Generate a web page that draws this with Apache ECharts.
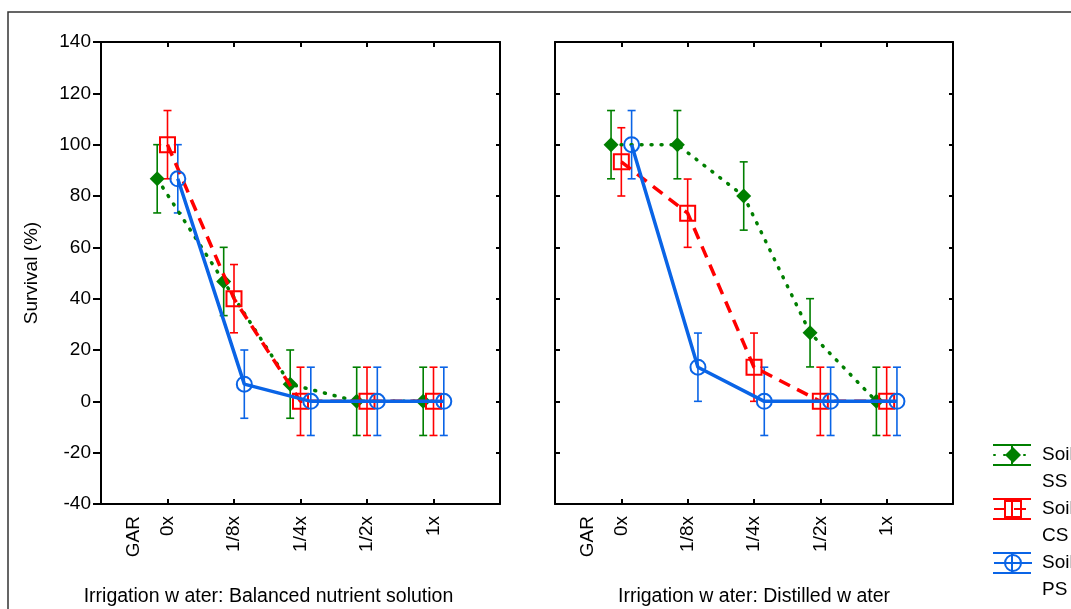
<!DOCTYPE html>
<html>
<head>
<meta charset="utf-8">
<script src="https://cdn.jsdelivr.net/npm/echarts@6/dist/echarts.min.js"></script>
<style>
  html, body { margin: 0; padding: 0; background: #fff; }
  #chart { width: 1071px; height: 609px; }
</style>
</head>
<body>
<div id="chart"></div>
<script>
// doses on the x axis (GAR is only a label left of 0x)
var doses = ['0x', '1/8x', '1/4x', '1/2x', '1x'];
var seriesNames = ['Soil SS', 'Soil CS', 'Soil PS'];
var panelTitles = ['Irrigation w ater: Balanced nutrient solution', 'Irrigation w ater: Distilled w ater'];

// survival (%)
var balancedSS = [86.7, 46.7, 6.7, 0, 0];
var balancedCS = [100, 40, 0, 0, 0];
var balancedPS = [86.7, 6.7, 0, 0, 0];
var distilledSS = [100, 100, 80, 26.7, 0];
var distilledCS = [93.3, 73.3, 13.3, 0, 0];
var distilledPS = [100, 13.3, 0, 0, 0];

// error bar half widths
var balancedSSErr = [13.3, 13.3, 13.3, 13.3, 13.3];
var balancedCSErr = [13.3, 13.3, 13.3, 13.3, 13.3];
var balancedPSErr = [13.3, 13.3, 13.3, 13.3, 13.3];
var distilledSSErr = [13.3, 13.3, 13.3, 13.3, 13.3];
var distilledCSErr = [13.3, 13.3, 13.3, 13.3, 13.3];
var distilledPSErr = [13.3, 13.3, 13.3, 13.3, 13.3];

var yTicks = { min: -40, max: 140, step: 20 };

var colors = ['#007f00', '#ff0000', '#0a64e6'];
var dodge = [-0.155, 0, 0.155];
var symbols = ['diamond', 'rect', 'circle'];
var lineTypes = [[1, 9], [12, 8], 'solid'];
var FONT = 'Liberation Sans, Arial, sans-serif';

var panels = [
    { means: [balancedSS, balancedCS, balancedPS], errs: [balancedSSErr, balancedCSErr, balancedPSErr] },
    { means: [distilledSS, distilledCS, distilledPS], errs: [distilledSSErr, distilledCSErr, distilledPSErr] }
];

var chart = echarts.init(document.getElementById('chart'));

var grids = [
    { left: 101, top: 42, width: 399, height: 462, outerBoundsMode: 'none', containLabel: false },
    { left: 555, top: 42, width: 398, height: 462, outerBoundsMode: 'none', containLabel: false }
];

var xAxes = [];
var yAxes = [];
var series = [];

function tickLabel(v) {
    if (Math.abs(v + 0.5) < 1e-6) return 'GAR';
    var i = Math.round(v);
    if (Math.abs(v - i) < 1e-6 && i >= 0 && i < doses.length) return doses[i];
    return '';
}

var frameLine = { show: true, onZero: false, lineStyle: { color: '#000', width: 2 } };

grids.forEach(function (g, p) {
    var base = xAxes.length;
    // bottom: ticks only
    xAxes.push({
        type: 'value', gridIndex: p, position: 'bottom', min: -1, max: 5, interval: 1,
        axisLine: frameLine,
        axisTick: { show: true, inside: true, length: 5, lineStyle: { color: '#000', width: 2 } },
        axisLabel: { show: false }, splitLine: { show: false }
    });
    // top mirror
    xAxes.push({
        type: 'value', gridIndex: p, position: 'top', min: -1, max: 5, interval: 1,
        axisLine: frameLine,
        axisTick: { show: true, inside: true, length: 5, lineStyle: { color: '#000', width: 2 } },
        axisLabel: { show: false }, splitLine: { show: false }
    });
    // labels (half steps so GAR can sit between the frame and 0x)
    xAxes.push({
        type: 'value', gridIndex: p, position: 'bottom', min: -1, max: 5, interval: 0.5,
        axisLine: { show: false, onZero: false }, axisTick: { show: false }, splitLine: { show: false },
        axisLabel: { rotate: 90, margin: 12, color: '#000', fontFamily: FONT, fontSize: 19, formatter: tickLabel },
        name: panelTitles[p], nameLocation: 'middle', nameGap: 83,
        nameTextStyle: { color: '#000', fontFamily: FONT, fontSize: 19.5, padding: p === 0 ? [0, 64, 0, 0] : 0 }
    });

    yAxes.push({
        type: 'value', gridIndex: p, position: 'left', min: yTicks.min, max: yTicks.max, interval: yTicks.step,
        axisLine: frameLine,
        axisTick: { show: true, inside: p === 1, length: p === 0 ? 8 : 5, lineStyle: { color: '#000', width: 2 } },
        axisLabel: { show: p === 0, margin: 10, color: '#000', fontFamily: FONT, fontSize: 19 },
        splitLine: { show: false },
        name: p === 0 ? 'Survival (%)' : '', nameLocation: 'middle', nameGap: 60, nameRotate: 90,
        nameTextStyle: { color: '#000', fontFamily: FONT, fontSize: 19 }
    });
    yAxes.push({
        type: 'value', gridIndex: p, position: 'right', min: yTicks.min, max: yTicks.max, interval: yTicks.step,
        axisLine: frameLine,
        axisTick: { show: true, inside: true, length: 4, lineStyle: { color: '#000', width: 2 } },
        axisLabel: { show: false }, splitLine: { show: false }
    });

    var pan = panels[p];
    for (var s = 0; s < 3; s++) {
        var errData = [];
        var lineData = [];
        for (var i = 0; i < doses.length; i++) {
            var x = i + dodge[s];
            var m = pan.means[s][i];
            var e = pan.errs[s][i];
            errData.push([x, m - e, m + e]);
            lineData.push([x, m]);
        }
        // error bars
        series.push({
            name: seriesNames[s] + ' error',
            type: 'custom',
            xAxisIndex: base, yAxisIndex: p * 2,
            z: 2,
            silent: true,
            data: errData,
            encode: { x: 0, y: [1, 2] },
            renderItem: (function (col) {
                return function (params, api) {
                    var lo = api.coord([api.value(0), api.value(1)]);
                    var hi = api.coord([api.value(0), api.value(2)]);
                    var w = 4;
                    var st = { stroke: col, lineWidth: 1.6 };
                    return {
                        type: 'group',
                        children: [
                            { type: 'line', shape: { x1: lo[0], y1: lo[1], x2: hi[0], y2: hi[1] }, style: st },
                            { type: 'line', shape: { x1: lo[0] - w, y1: lo[1], x2: lo[0] + w, y2: lo[1] }, style: st },
                            { type: 'line', shape: { x1: hi[0] - w, y1: hi[1], x2: hi[0] + w, y2: hi[1] }, style: st }
                        ]
                    };
                };
            })(colors[s])
        });
        // means
        series.push({
            name: seriesNames[s],
            type: 'line',
            xAxisIndex: base, yAxisIndex: p * 2,
            z: 3 + s,
            data: lineData,
            symbol: symbols[s],
            symbolSize: 15,
            showSymbol: true,
            lineStyle: { color: colors[s], width: 3.5, type: lineTypes[s], cap: s === 0 ? 'round' : 'butt' },
            itemStyle: s === 0
                ? { color: colors[s], borderColor: colors[s], borderWidth: 0 }
                : { color: 'rgba(255,255,255,0)', borderColor: colors[s], borderWidth: 2 },
            emphasis: { disabled: true },
            animation: false
        });
    }
});

// legend whisker caps drawn next to the legend symbols
var legendTop = 455;
var legendStep = 54;
var legendGraphics = [{
    type: 'rect', z: -1, silent: true,
    shape: { x: 8, y: 12, width: 1200, height: 800 },
    style: { fill: 'none', stroke: '#333', lineWidth: 1.5 }
}];
seriesNames.forEach(function (n, s) {
    var yc = legendTop + legendStep * s;
    var st = { stroke: colors[s], lineWidth: 2 };
    legendGraphics.push({ type: 'line', silent: true, shape: { x1: 993, y1: yc - 10, x2: 1031, y2: yc - 10 }, style: st });
    legendGraphics.push({ type: 'line', silent: true, shape: { x1: 993, y1: yc + 10, x2: 1031, y2: yc + 10 }, style: st });
    legendGraphics.push({ type: 'line', silent: true, shape: { x1: 1012, y1: yc - 10, x2: 1012, y2: yc + 10 }, style: st });
});

chart.setOption({
    animation: false,
    backgroundColor: '#fff',
    grid: grids,
    xAxis: xAxes,
    yAxis: yAxes,
    legend: {
        data: seriesNames,
        orient: 'vertical',
        left: 993,
        top: legendTop - 40.5,
        padding: 0,
        itemWidth: 38,
        itemHeight: 20,
        itemGap: -27,
        selectedMode: false,
        formatter: function (name) { return ' \n' + name.replace(' ', '\n'); },
        textStyle: { color: '#000', fontFamily: FONT, fontSize: 19, lineHeight: 27, padding: [0, 0, 0, 5] }
    },
    graphic: legendGraphics,
    series: series
});
</script>
</body>
</html>
